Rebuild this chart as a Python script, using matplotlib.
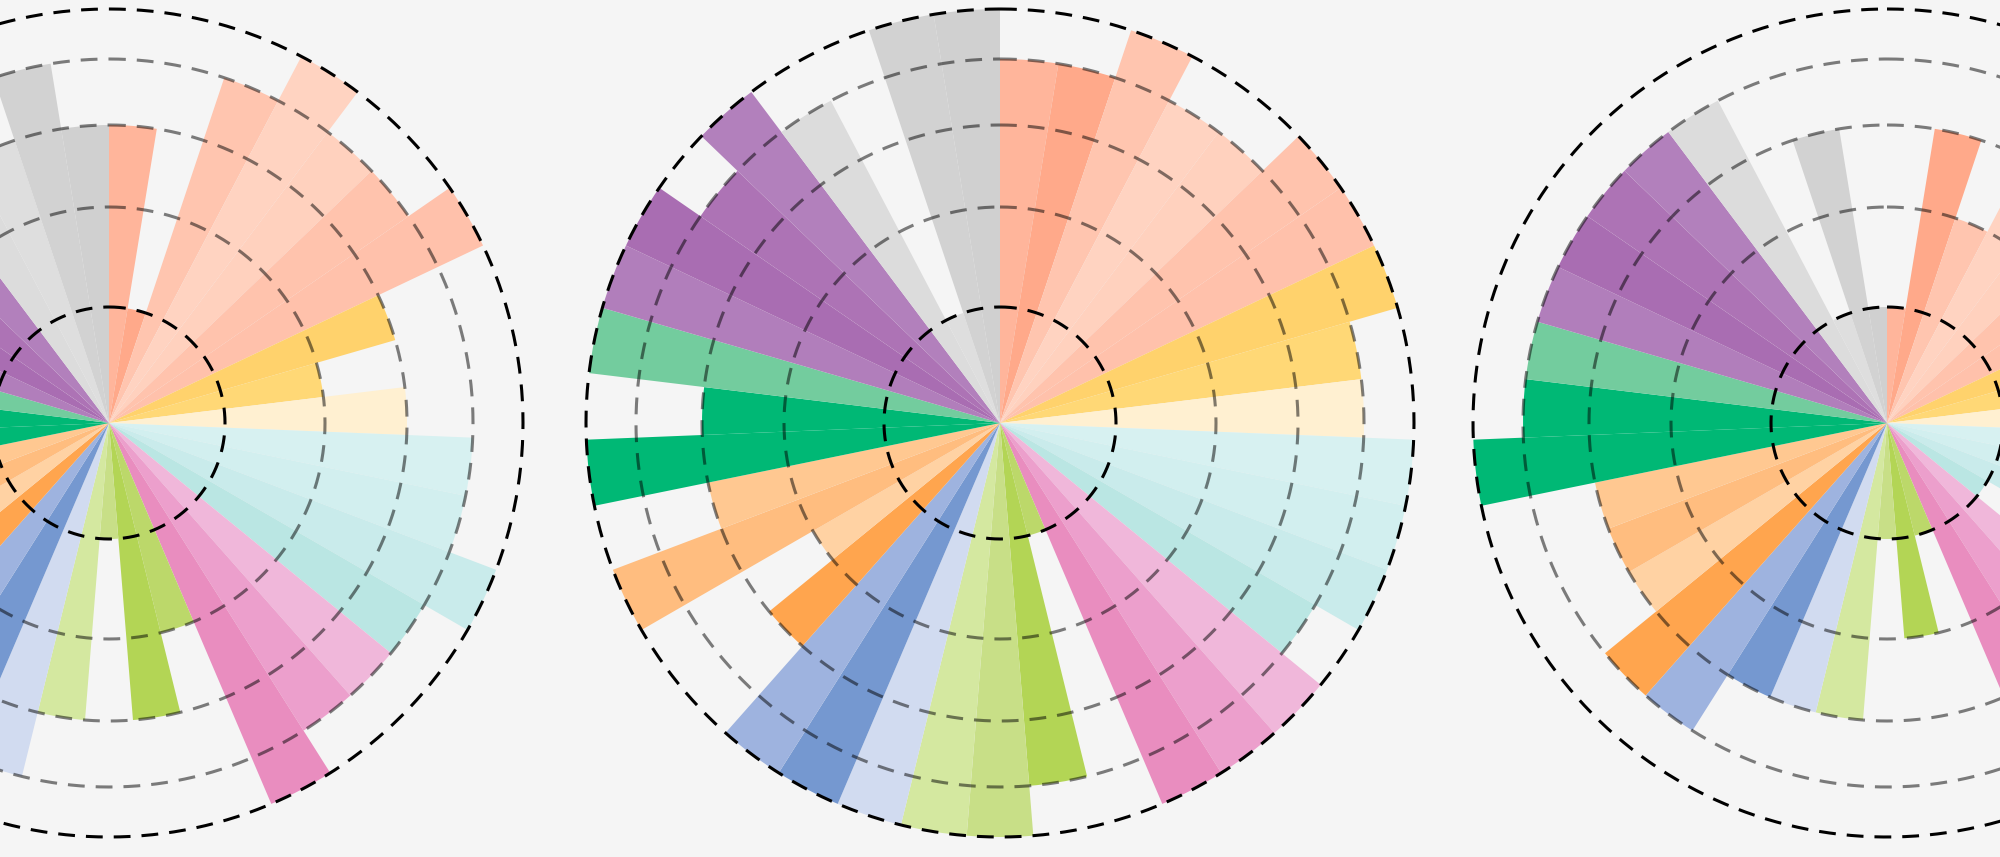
import numpy as np
import matplotlib
matplotlib.use("Agg")
import matplotlib.pyplot as plt


# =====================
#  Data
# =====================

# 39 categories around the circle, clockwise from 12 o'clock
N_BARS = 39

# score (1..5) of every category, one list per rose chart
scores_left = [3, 1, 4, 5, 4, 4, 5, 3, 2, 3,
               4, 4, 5, 4, 4, 4, 5, 2, 3, 1,
               3, 4, 4, 3, 3, 4, 3, 4, 5, 4,
               3, 4, 5, 4, 4, 3, 3, 4, 3]

scores_center = [4, 4, 5, 4, 4, 5, 5, 5, 4, 4,
                 5, 5, 5, 4, 5, 5, 5, 1, 4, 5,
                 5, 5, 5, 5, 3, 2, 5, 3, 5, 3,
                 5, 5, 5, 4, 5, 4, 1, 5, 5]

scores_right = [1, 3, 2, 3, 3, 3, 2, 2, 3, 2,
                3, 4, 3, 1, 3, 2, 4, 1, 2, 1,
                3, 3, 3, 4, 4, 3, 3, 3, 5, 4,
                4, 4, 4, 4, 4, 4, 1, 3, 1]

# score levels and the radius (px) each one sits at on the chart
levels = [0, 1, 2, 3, 4, 5, 6]
level_radius = [0, 116, 216, 298, 364, 414, 464]

# =====================
#  Styles
# =====================

bar_colors = [
    '#FFB59B', '#FFA98A', '#FFC5AF', '#FFD3C1', '#FFD1BE', '#FFC3AD', '#FFC1AB',
    '#FFD26C', '#FFD876', '#FFF0D1',
    '#D7F1F1', '#D2EFEF', '#C9EBEB', '#BAE6E3',
    '#F0B7DA', '#EC9FCC', '#E98DBF',
    '#BCD86A', '#B3D555', '#C8DF87', '#D4E8A0',
    '#D1DBF0', '#7598D0', '#9EB3DF',
    '#FFA54E', '#FFD2A3', '#FFBD7F', '#FFC891',
    '#00B875', '#00B875', '#73CC9E',
    '#B17EBB', '#A96DB2', '#AD73B5', '#B280BC',
    '#DCDCDC', '#DEDEDE', '#D2D2D2', '#D0D0D0',
]

BG = '#F5F5F5'
W, H = 2000, 857
CY = 423                      # centre height from the top, px
CENTERS_X = [109, 1000, 1887]  # centre x of each rose, px
R_MAX = 5.2                   # radial limit (score units)


def fwd(v):
    return np.interp(v, levels, level_radius)


def inv(r):
    return np.interp(r, level_radius, levels)


def draw_rose(fig, cx, scores):
    """One rose chart centred at (cx, CY) in pixels."""
    r_px = fwd(R_MAX)
    rect = [(cx - r_px) / W, (H - CY - r_px) / H, 2 * r_px / W, 2 * r_px / H]
    ax = fig.add_axes(rect, projection='polar')
    ax.set_theta_zero_location('N')
    ax.set_theta_direction(-1)
    ax.set_rscale('function', functions=(fwd, inv))
    ax.set_ylim(0, R_MAX)

    step = 2 * np.pi / N_BARS
    theta = np.arange(N_BARS) * step
    ax.bar(theta, scores, width=step, bottom=0, align='edge',
           color=bar_colors, linewidth=0, zorder=2)

    # dashed rings: innermost and outermost black, the others half-black
    ring = np.linspace(0, 2 * np.pi, 721)
    for lv in range(1, 6):
        col = 'black' if lv in (1, 5) else (0, 0, 0, 0.5)
        ax.plot(ring, np.full_like(ring, lv), color=col, lw=2.2,
                dashes=(5.5, 3.6), zorder=3)

    ax.set_axis_off()
    return ax


# ======================
#  Main program
# ======================

fig = plt.figure(figsize=(W / 100, H / 100), dpi=100, facecolor=BG)

for cx, sc in zip(CENTERS_X, [scores_left, scores_center, scores_right]):
    draw_rose(fig, cx, sc)

fig.savefig('out.png', dpi=100, facecolor=BG)
